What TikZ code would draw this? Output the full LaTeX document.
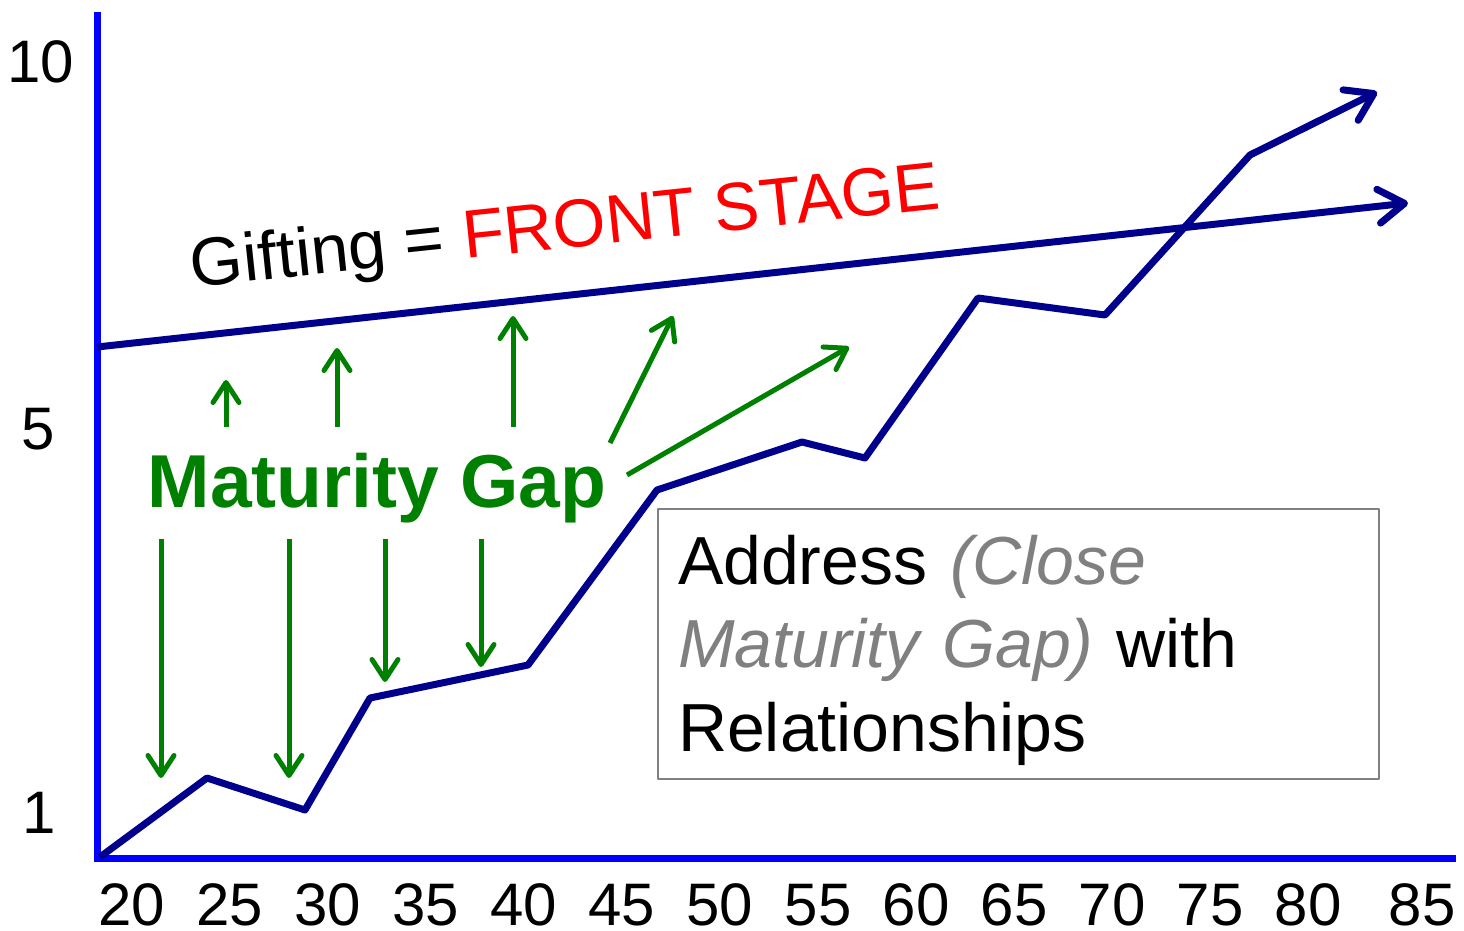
\documentclass[tikz,border=0pt]{standalone}
\usepackage{fontspec}
\setmainfont{Liberation Sans}
\usetikzlibrary{arrows.meta}
\definecolor{axisblue}{RGB}{0,0,255}
\definecolor{curvenavy}{RGB}{0,0,140}
\definecolor{gapgreen}{RGB}{0,128,0}
\definecolor{notegray}{RGB}{128,128,128}
\begin{document}
\begin{tikzpicture}[x=1pt,y=-1pt,line join=round,
  axis/.style={axisblue,line width=7pt,line join=miter},
  curve/.style={curvenavy,line width=7pt,-{Straight Barb[length=26pt,width=34pt,round]}},
  gap/.style={gapgreen,line width=5pt,-{Straight Barb[length=20pt,width=26pt,round]}},
  tick/.style={font=\fontsize{60}{72}\selectfont,anchor=base,inner sep=0pt}]
  \useasboundingbox (0,0) rectangle (1464,930);
  % axes
  \coordinate (ytop) at (97,12);
  \coordinate (O) at (97,858);
  \coordinate (xend) at (1456,858);
  \draw[axis] (ytop) -- (O) -- (xend);
  \node[tick] (y10) at (41,82) {10};
  \node[tick] (y5) at (38,449) {5};
  \node[tick] (y1) at (39,833) {1};
  \foreach \age/\xx in {20/132,25/230,30/328,35/426,40/524,45/622,50/720,
      55/818,60/916,65/1014,70/1112,75/1210,80/1308,85/1422}
    \node[tick] (x\age) at (\xx,925) {\age};
  % front stage and maturity
  \draw[curve] (97,347) -- (1408,203);
  \draw[curve] (100,857) -- (207,778) -- (305,810) -- (370,698) -- (528,665)
    -- (657,490) -- (802,442) -- (865,458) -- (978,298) -- (1105,315)
    -- (1250,155) -- (1377,92);
  \node[anchor=base,rotate=6,inner sep=0pt,font=\fontsize{68}{80}\selectfont] (gifting) at (567,248)
    {Gifting = \textcolor{red}{FRONT STAGE}};
  % the gap
  \node[anchor=base,inner sep=0pt,text=gapgreen,font=\fontsize{75}{88}\selectfont\bfseries] (gap) at (377,507) {Maturity Gap};
  \draw[gap] (226,427) -- (226,380);
  \draw[gap] (337,427) -- (337,348);
  \draw[gap] (513,427) -- (513,316);
  \draw[gap] (610,443) -- (673,316);
  \draw[gap] (627,475) -- (849,347);
  \draw[gap] (161,539) -- (161,778);
  \draw[gap] (289,539) -- (289,778);
  \draw[gap] (385,539) -- (385,682);
  \draw[gap] (481,539) -- (481,667);
  \node[draw=notegray,line width=2pt,anchor=north west,inner xsep=20pt,inner ysep=0pt,
    text width=681pt,text height=75pt,text depth=195pt,align=left,
    font=\fontsize{68}{83.5}\selectfont] (note) at (657,508)
    {Address \textcolor{notegray}{\itshape(Close}\\
     \textcolor{notegray}{\itshape Maturity Gap)} with\\
     Relationships};
\end{tikzpicture}
\end{document}
